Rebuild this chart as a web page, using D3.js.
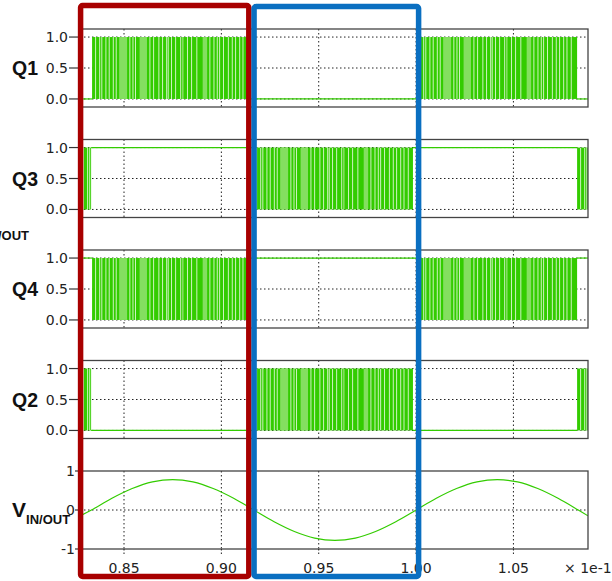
<!DOCTYPE html>
<html lang="en">
<head>
<meta charset="utf-8">
<title>Switching signals</title>
<script src="https://d3js.org/d3.v7.min.js"></script>
<style>
  body { margin: 0; background: #fff; }
  svg { display: block; }
  .tick-label { font-family: "DejaVu Sans", Verdana, sans-serif; font-size: 14px; fill: #222; }
  .panel-label { font-family: "Liberation Sans", Arial, sans-serif; font-weight: bold; fill: #111; }
</style>
</head>
<body>
<svg id="chart" width="612" height="581"></svg>
<script>
// axis setup
const xDomain = [0.8274, 1.0883];
const xTicks = [0.85, 0.90, 0.95, 1.00, 1.05];
const xTickLabels = ['0.85', '0.90', '0.95', '1.00', '1.05'];
const qTicks = [0, 0.5, 1];
const qTickLabels = ['0.0', '0.5', '1.0'];
const vTicks = [-1, 0, 1];
const vTickLabels = ['-1', '0', '1'];
const qLabels = ['Q1', 'Q3', 'Q4', 'Q2'];

// switch states: [start, end, state]
const q1Segments = [[0.8274, 0.8336, 'low'], [0.8336, 0.9137, 'pwm'], [0.9137, 1.0000, 'low'], [1.0000, 1.0827, 'pwm'], [1.0827, 1.0883, 'low']];
const q3Segments = [[0.8274, 0.8331, 'pwm'], [0.8331, 0.9163, 'high'], [0.9163, 0.9984, 'pwm'], [0.9984, 1.0827, 'high'], [1.0827, 1.0883, 'pwm']];
const q4Segments = [[0.8274, 0.8336, 'high'], [0.8336, 0.9137, 'pwm'], [0.9137, 1.0000, 'high'], [1.0000, 1.0827, 'pwm'], [1.0827, 1.0883, 'high']];
const q2Segments = [[0.8274, 0.8331, 'pwm'], [0.8331, 0.9163, 'low'], [0.9163, 0.9984, 'pwm'], [0.9984, 1.0827, 'low'], [1.0827, 1.0883, 'pwm']];
const qSegments = [q1Segments, q3Segments, q4Segments, q2Segments];

// off-gaps inside a pwm burst, measured from the burst start
const gapOffsets = [0.0018, 0.0039, 0.0050, 0.0071, 0.0088, 0.0109, 0.0124, 0.0194, 0.0210, 0.0223,
  0.0297, 0.0316, 0.0343, 0.0362, 0.0383, 0.0391, 0.0408, 0.0429, 0.0455, 0.0490, 0.0511, 0.0538,
  0.0605, 0.0626, 0.0643, 0.0655, 0.0675, 0.0700, 0.0720, 0.0737, 0.0758, 0.0775, 0.0797];
const lightBands = [[0.0139, 0.0180], [0.0244, 0.0282], [0.0462, 0.0470], [0.0568, 0.0591]];

// V in/out samples
const vTime = [0.8274, 0.8333, 0.8438, 0.8542, 0.8646, 0.8750, 0.8854, 0.8958, 0.9063, 0.9167,
  0.9271, 0.9375, 0.9479, 0.9583, 0.9688, 0.9792, 0.9896, 1.0000, 1.0104, 1.0208, 1.0313,
  1.0417, 1.0521, 1.0625, 1.0729, 1.0833, 1.0883];
const vValue = [-0.15, 0.00, 0.30, 0.55, 0.72, 0.78, 0.72, 0.55, 0.30, 0.00,
  -0.30, -0.55, -0.72, -0.78, -0.72, -0.55, -0.30, 0.00, 0.30, 0.55, 0.72,
  0.78, 0.72, 0.55, 0.30, 0.00, -0.15];

const green = '#33cc00';
const lightGreen = '#84df60';
const plotLeft = 80, plotRight = 588;
const panelTop = 29, panelPitch = 110.5, panelH = 78;

const svg = d3.select('#chart');
const x = d3.scaleLinear().domain(xDomain).range([plotLeft, plotRight]);

function drawGrid(g, y, ticks) {
  g.selectAll('line.vgrid').data(xTicks).join('line')
    .attr('class', 'vgrid')
    .attr('x1', d => x(d)).attr('x2', d => x(d))
    .attr('y1', 0).attr('y2', panelH)
    .attr('stroke', '#222').attr('stroke-width', 1).attr('stroke-dasharray', '1.5,2.5');
  g.selectAll('line.hgrid').data(ticks).join('line')
    .attr('class', 'hgrid')
    .attr('x1', plotLeft).attr('x2', plotRight)
    .attr('y1', d => y(d)).attr('y2', d => y(d))
    .attr('stroke', '#222').attr('stroke-width', 1).attr('stroke-dasharray', '1.5,2.5');
}

function drawTicks(g, y, ticks, labels, tickLen, labelX) {
  g.selectAll('line.ytick').data(ticks).join('line')
    .attr('class', 'ytick')
    .attr('x1', plotLeft - tickLen).attr('x2', plotLeft)
    .attr('y1', d => y(d)).attr('y2', d => y(d))
    .attr('stroke', '#333').attr('stroke-width', 1.2);
  g.selectAll('text.ytl').data(ticks).join('text')
    .attr('class', 'ytl tick-label')
    .attr('x', labelX).attr('y', d => y(d)).attr('dy', '0.36em')
    .attr('text-anchor', 'end')
    .text((d, i) => labels[i]);
}

qSegments.forEach((segs, p) => {
  const top = panelTop + p * panelPitch;
  const g = svg.append('g').attr('transform', `translate(0,${top})`);
  const y = d3.scaleLinear().domain([-0.13, 1.13]).range([panelH, 0]);

  g.append('clipPath').attr('id', 'clip' + p)
    .append('rect').attr('x', plotLeft).attr('y', 0).attr('width', plotRight - plotLeft).attr('height', panelH);

  drawGrid(g, y, qTicks);

  const c = g.append('g').attr('clip-path', `url(#clip${p})`);
  segs.forEach(([t0, t1, state]) => {
    if (state === 'pwm') {
      c.append('rect')
        .attr('x', x(t0)).attr('width', x(t1) - x(t0))
        .attr('y', y(1)).attr('height', y(0) - y(1))
        .attr('fill', green);
      lightBands.filter(b => t0 + b[1] < t1).forEach(b => {
        c.append('rect')
          .attr('x', x(t0 + b[0])).attr('width', x(t0 + b[1]) - x(t0 + b[0]))
          .attr('y', y(1)).attr('height', y(0) - y(1))
          .attr('fill', lightGreen);
      });
      gapOffsets.filter(o => t0 + o < t1 - 0.0005).forEach(o => {
        c.append('rect')
          .attr('x', x(t0 + o) - 0.5).attr('width', 1)
          .attr('y', y(1)).attr('height', y(0) - y(1))
          .attr('fill', '#f2fbee').attr('opacity', 0.8);
      });
    } else {
      const lvl = state === 'high' ? 1 : 0;
      c.append('line')
        .attr('x1', x(t0)).attr('x2', x(t1))
        .attr('y1', y(lvl)).attr('y2', y(lvl))
        .attr('stroke', green).attr('stroke-width', 1.2);
    }
  });

  g.append('rect')
    .attr('x', plotLeft).attr('y', 0).attr('width', plotRight - plotLeft).attr('height', panelH)
    .attr('fill', 'none').attr('stroke', '#444').attr('stroke-width', 1.3);

  drawTicks(g, y, qTicks, qTickLabels, 11, 68);

  g.append('text').attr('class', 'panel-label')
    .attr('x', 12).attr('y', y(0.5) + 7)
    .attr('font-size', 19.5)
    .text(qLabels[p]);
});

// V in/out panel
{
  const top = panelTop + 4 * panelPitch;
  const g = svg.append('g').attr('transform', `translate(0,${top})`);
  const y = d3.scaleLinear().domain([-1, 1]).range([panelH, 0]);

  g.append('clipPath').attr('id', 'clipV')
    .append('rect').attr('x', plotLeft).attr('y', 0).attr('width', plotRight - plotLeft).attr('height', panelH);

  drawGrid(g, y, [0]);

  const line = d3.line().x((d, i) => x(vTime[i])).y(d => y(d)).curve(d3.curveCatmullRom);
  g.append('path').datum(vValue)
    .attr('clip-path', 'url(#clipV)')
    .attr('d', line)
    .attr('fill', 'none').attr('stroke', green).attr('stroke-width', 1.2);

  g.append('rect')
    .attr('x', plotLeft).attr('y', 0).attr('width', plotRight - plotLeft).attr('height', panelH)
    .attr('fill', 'none').attr('stroke', '#444').attr('stroke-width', 1.3);

  drawTicks(g, y, vTicks, vTickLabels, 5, 75);

  // x ticks
  g.selectAll('line.xtick').data(xTicks).join('line')
    .attr('x1', d => x(d)).attr('x2', d => x(d))
    .attr('y1', panelH).attr('y2', panelH + 7)
    .attr('stroke', '#222').attr('stroke-width', 1).attr('stroke-dasharray', '1.5,2');
  g.selectAll('text.xtl').data(xTicks).join('text')
    .attr('class', 'xtl tick-label')
    .attr('x', d => x(d)).attr('y', panelH + 24)
    .attr('text-anchor', 'middle')
    .text((d, i) => xTickLabels[i]);
  g.append('text').attr('class', 'tick-label')
    .attr('x', 564).attr('y', panelH + 24)
    .text('\u00d7 1e-1');

  const lab = g.append('text').attr('class', 'panel-label').attr('x', 12).attr('y', 46);
  lab.append('tspan').attr('font-size', 21).text('V');
  lab.append('tspan').attr('font-size', 13).attr('dy', 7).text('IN/OUT');
}

// stray subscript fragment at the left edge
svg.append('text').attr('class', 'panel-label')
  .attr('x', 29).attr('y', 240).attr('text-anchor', 'end')
  .attr('font-size', 13)
  .text('IN/OUT');

// highlight boxes
svg.append('rect')
  .attr('x', x(0.8277)).attr('y', 5.5)
  .attr('width', x(0.9141) - x(0.8277)).attr('height', 571)
  .attr('rx', 2)
  .attr('fill', 'none').attr('stroke', '#a80000').attr('stroke-width', 5.5);
svg.append('rect')
  .attr('x', x(0.9168)).attr('y', 6.5)
  .attr('width', x(1.0013) - x(0.9168)).attr('height', 570)
  .attr('rx', 2)
  .attr('fill', 'none').attr('stroke', '#0a6fc1').attr('stroke-width', 5.5);
</script>
</body>
</html>
